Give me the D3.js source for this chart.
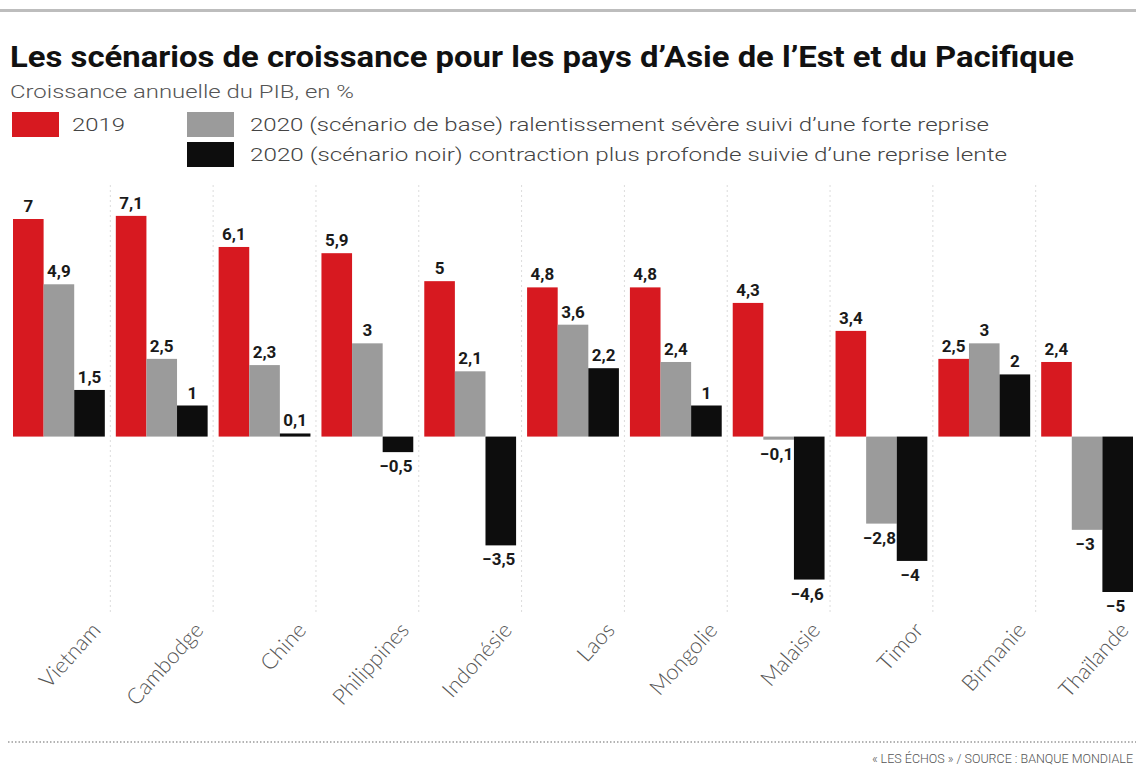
<!DOCTYPE html>
<html><head><meta charset="utf-8">
<script src="https://cdn.jsdelivr.net/npm/d3@7"></script>
<style>
html,body{margin:0;padding:0;background:#fff;}
svg{display:block;}
</style></head>
<body>
<svg id="chart" width="1136" height="767"></svg>
<script>
const categories = ["Vietnam","Cambodge","Chine","Philippines","Indonésie","Laos","Mongolie","Malaisie","Timor","Birmanie","Thaïlande"];
const v2019 = [7, 7.1, 6.1, 5.9, 5, 4.8, 4.8, 4.3, 3.4, 2.5, 2.4];
const base2020 = [4.9, 2.5, 2.3, 3, 2.1, 3.6, 2.4, -0.1, -2.8, 3, -3];
const noir2020 = [1.5, 1, 0.1, -0.5, -3.5, 2.2, 1, -4.6, -4, 2, -5];
const seriesKeys = ["2019", "base", "noir"];
const seriesColors = ["#d71920", "#9b9b9b", "#0d0d0d"];
const legendLabels = ["2019", "2020  (scénario de base) ralentissement sévère suivi d’une forte reprise", "2020  (scénario noir) contraction plus profonde suivie d’une reprise lente"];
const title = "Les scénarios de croissance pour les pays d’Asie de l’Est et du Pacifique";
const subtitle = "Croissance annuelle du PIB, en %";
const source = "« LES ÉCHOS » / SOURCE : BANQUE MONDIALE";

const rows = categories.map((c, i) => ({cat: c, vals: [v2019[i], base2020[i], noir2020[i]]}));

const svg = d3.select("#chart");

// top rule
svg.append("rect").attr("x", 0).attr("y", 9).attr("width", 1136).attr("height", 3).attr("fill", "#bdbdbd");

// title
svg.append("text").attr("x", 10).attr("y", 67)
  .attr("font-family", "Roboto, 'Liberation Sans', sans-serif").attr("font-weight", 700)
  .attr("font-size", 30).attr("fill", "#111")
  .attr("textLength", 1064).attr("lengthAdjust", "spacingAndGlyphs")
  .text(title);
svg.append("text").attr("x", 10).attr("y", 98)
  .attr("font-family", "Roboto, sans-serif").attr("font-weight", 300)
  .attr("font-size", 19).attr("fill", "#555")
  .attr("textLength", 344).attr("lengthAdjust", "spacingAndGlyphs")
  .text(subtitle);

// legend
const legendPos = [{x: 12, y: 112, tx: 72, tl: 53}, {x: 187, y: 112, tx: 250, tl: 739}, {x: 187, y: 142, tx: 250, tl: 757}];
legendPos.forEach((p, i) => {
  svg.append("rect").attr("x", p.x).attr("y", p.y).attr("width", 47).attr("height", 25).attr("fill", seriesColors[i]);
  svg.append("text").attr("x", p.tx).attr("y", p.y + 19)
    .attr("font-family", "Roboto, sans-serif").attr("font-weight", 300)
    .attr("font-size", 19).attr("fill", "#444")
    .attr("textLength", p.tl).attr("lengthAdjust", "spacingAndGlyphs")
    .text(legendLabels[i]);
});

// scales
const x0 = d3.scaleBand().domain(categories).range([13, 1133]).paddingInner(0.107).paddingOuter(0);
const x1 = d3.scaleBand().domain(seriesKeys).range([0, x0.bandwidth()]).padding(0);
const y = d3.scaleLinear().domain([-5, 7]).range([592, 219]);

// dotted separators
const step = x0.step();
categories.slice(1).forEach(c => {
  const gx = x0(c) - (step - x0.bandwidth()) / 2;
  svg.append("line").attr("x1", gx).attr("x2", gx).attr("y1", 185).attr("y2", 612)
    .attr("stroke", "#dcdcdc").attr("stroke-width", 1).attr("stroke-dasharray", "2,3");
});

const fmt = v => (v < 0 ? "−" : "") + String(Math.abs(v)).replace(".", ",");

const groups = svg.append("g").selectAll("g").data(rows).join("g")
  .attr("transform", d => `translate(${x0(d.cat)},0)`);

groups.selectAll("rect").data(d => d.vals.map((v, i) => ({k: seriesKeys[i], v, i}))).join("rect")
  .attr("x", d => x1(d.k))
  .attr("width", x1.bandwidth())
  .attr("y", d => Math.min(y(d.v), y(0)))
  .attr("height", d => Math.max(Math.abs(y(d.v) - y(0)), 2))
  .attr("fill", d => seriesColors[d.i]);

groups.selectAll("text").data(d => d.vals.map((v, i) => ({k: seriesKeys[i], v, i}))).join("text")
  .attr("x", d => x1(d.k) + x1.bandwidth() / 2 - (d.v < 0 ? 2 : 0))
  .attr("y", d => d.v >= 0 ? y(d.v) - 7 : y(d.v) + 20)
  .attr("text-anchor", "middle")
  .attr("font-family", "Roboto, sans-serif").attr("font-weight", 700)
  .attr("font-size", 17).attr("fill", "#1a1a1a")
  .text(d => fmt(d.v));

// category labels
svg.append("g").selectAll("text").data(categories).join("text")
  .attr("transform", c => `translate(${x0(c) + x0.bandwidth() - 3},631) rotate(-48)`)
  .attr("text-anchor", "end")
  .attr("font-family", "Lato, 'Open Sans', sans-serif").attr("font-weight", 300)
  .attr("font-size", 22).attr("fill", "#555")
  .text(c => c);

// bottom dotted rule
svg.append("line").attr("x1", 8).attr("x2", 1136).attr("y1", 742).attr("y2", 742)
  .attr("stroke", "#9a9a9a").attr("stroke-width", 1.5).attr("stroke-dasharray", "1.5,2");

svg.append("text").attr("x", 1133).attr("y", 763).attr("text-anchor", "end")
  .attr("font-family", "Roboto, sans-serif").attr("font-weight", 300)
  .attr("font-size", 12.5).attr("fill", "#555")
  .text(source);
</script>
</body></html>
